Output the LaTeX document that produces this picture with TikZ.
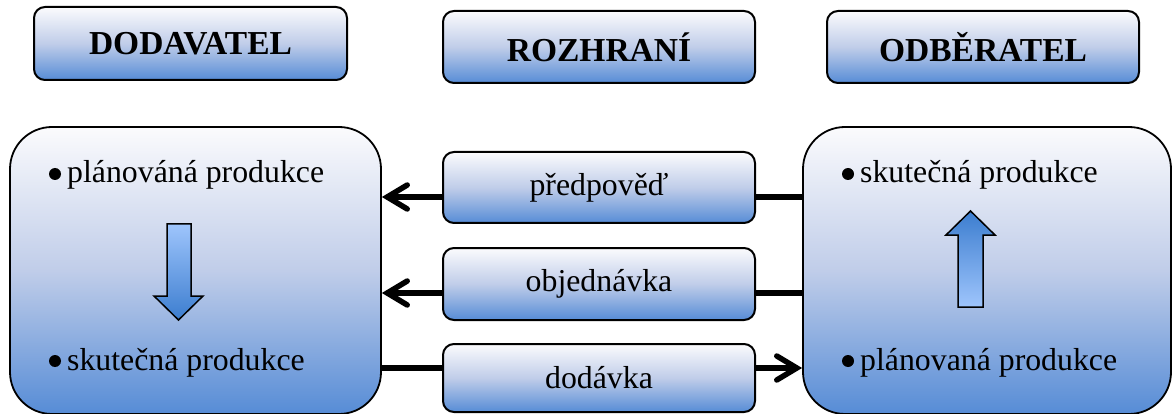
\documentclass[tikz,border=0pt]{standalone}
\usepackage{fontspec}
\setmainfont{Liberation Serif}
\usetikzlibrary{arrows.meta}
\definecolor{gtop}{RGB}{251,251,253}
\definecolor{gmid}{RGB}{192,205,233}
\definecolor{gbot}{RGB}{86,140,214}
\definecolor{atop}{RGB}{158,197,252}
\definecolor{abot}{RGB}{60,125,207}
\tikzset{
  gradbox/.style={draw=black, line width=2pt, top color=gtop, bottom color=gbot, middle color=gmid,
    inner sep=0pt, font=\fontsize{31.8}{36}\selectfont},
  hdrbox/.style={gradbox, rounded corners=11pt, font=\fontsize{33.5}{38}\selectfont\bfseries},
  midbox/.style={gradbox, rounded corners=11pt},
  mainbox/.style={gradbox, line width=1.8pt, rounded corners=42pt},
  itemtext/.style={anchor=base west, inner sep=0pt, font=\fontsize{31.8}{36}\selectfont},
  bul/.style={circle, fill=black, inner sep=0pt, minimum size=12pt},
  conn/.style={line width=5.5pt},
  arr/.style={-{Straight Barb[length=20pt,width=24pt,line width=5.5pt,line cap=round]}},
  blockarrow/.style={draw=black, line width=1.5pt, line join=miter}
}
\begin{document}
\begin{tikzpicture}[x=1pt,y=-1pt]
\useasboundingbox (0,0) rectangle (1175,414);
% header boxes
\node[hdrbox, minimum width=313pt, minimum height=73pt] (D) at (190.5,43.5) {DODAVATEL};
\node[hdrbox, minimum width=312pt, minimum height=72pt] (Z) at (599,47) {ROZHRANÍ};
\node[hdrbox, minimum width=312pt, minimum height=72pt] (O) at (983,47) {ODBĚRATEL};
% main boxes
\node[mainbox, minimum width=371pt, minimum height=287pt] (L) at (195.5,270.5) {};
\node[mainbox, minimum width=368pt, minimum height=287pt] (R) at (987,270.5) {};
% middle boxes
\node[midbox, minimum width=312pt, minimum height=71pt] (P) at (599,187.5) {předpověď};
\node[midbox, minimum width=312pt, minimum height=72pt] (B) at (599,284) {objednávka};
\node[midbox, minimum width=312pt, minimum height=68pt] (V) at (599,378) {dodávka};
% texts
\node[bul] (lb1) at (55,174) {};
\node[itemtext] (l1) at (67,183) {plánováná produkce};
\node[bul] (lb2) at (55,361) {};
\node[itemtext] (l2) at (67,370) {skutečná produkce};
\node[bul] (rb1) at (848,174) {};
\node[itemtext] (r1) at (860,183) {skutečná produkce};
\node[bul] (rb2) at (848,361) {};
\node[itemtext] (r2) at (860,370) {plánovaná produkce};
% block arrows
\draw[blockarrow, top color=atop, bottom color=abot]
  (167,224) -- (191,224) -- (191,296) -- (203,296) -- (178.5,320) -- (154,296) -- (167,296) -- cycle;
\draw[blockarrow, top color=abot, bottom color=atop]
  (958,307) -- (983,307) -- (983,235) -- (995,235) -- (970.5,211) -- (946,235) -- (958,235) -- cycle;
% connectors
\coordinate (y1) at (0,197);
\coordinate (y2) at (0,293);
\coordinate (y3) at (0,368);
\draw[conn] (R.west |- y1) -- (P.east |- y1);
\draw[conn, arr] (P.west |- y1) -- (L.east |- y1);
\draw[conn] (R.west |- y2) -- (B.east |- y2);
\draw[conn, arr] (B.west |- y2) -- (L.east |- y2);
\draw[conn] (L.east |- y3) -- (V.west |- y3);
\draw[conn, arr] (V.east |- y3) -- (R.west |- y3);
\end{tikzpicture}
\end{document}
